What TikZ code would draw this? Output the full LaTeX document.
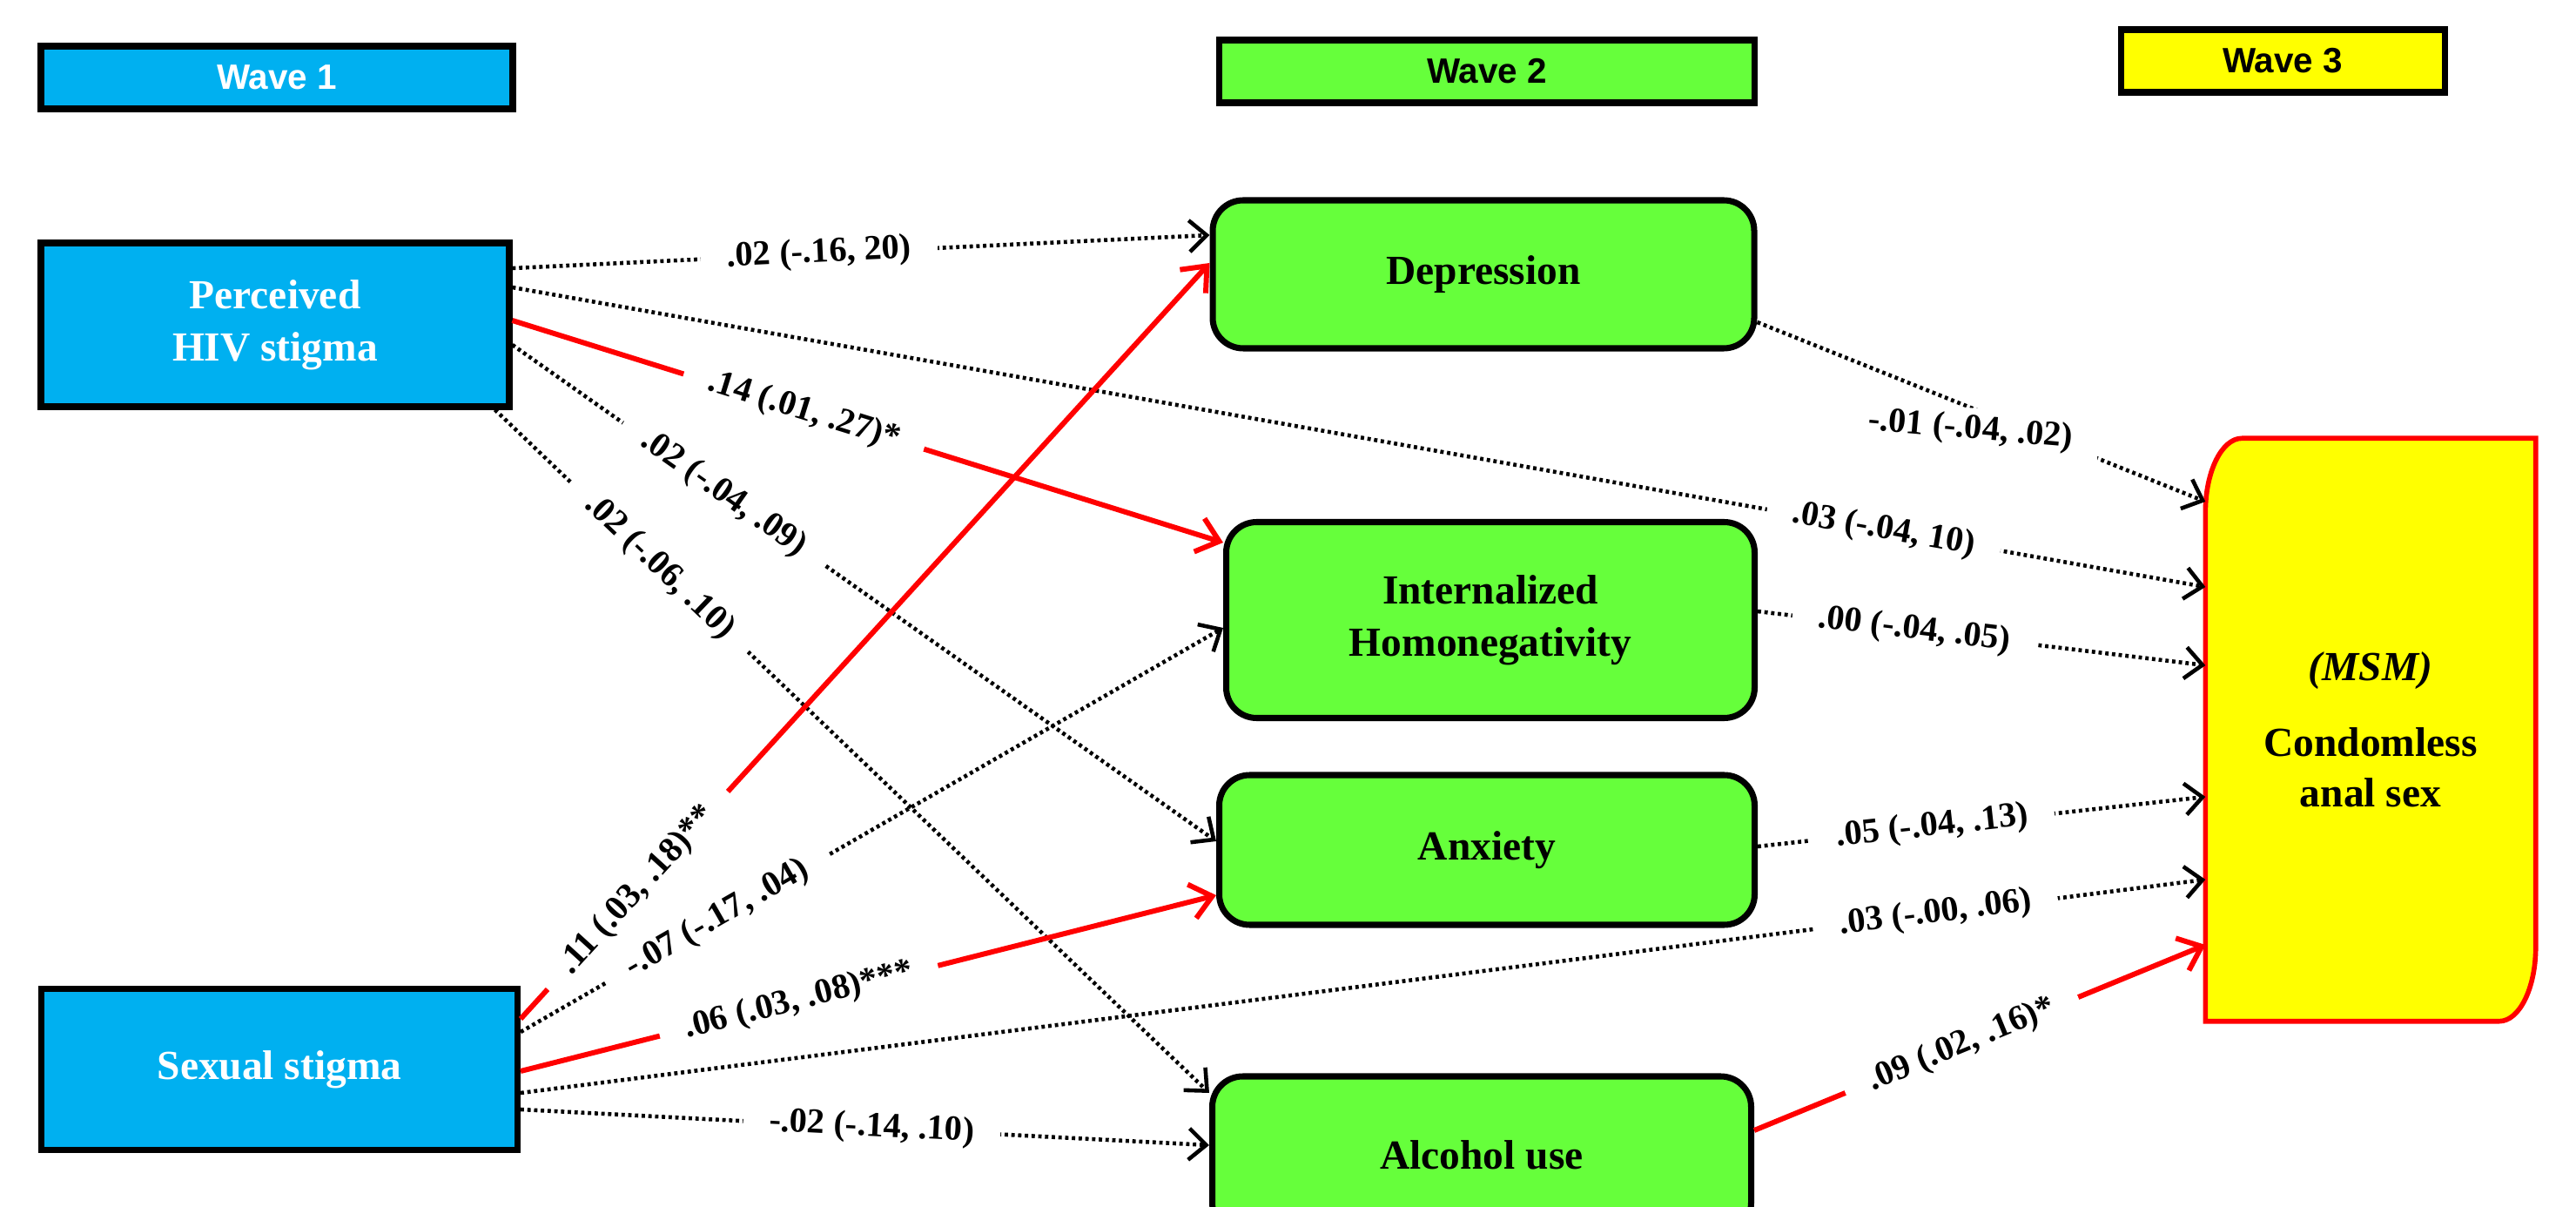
\documentclass[tikz,border=0pt]{standalone}
\usepackage{fontspec}
\setmainfont{Liberation Serif}
\setsansfont{Liberation Sans}
\definecolor{wvblue}{RGB}{0,176,240}
\definecolor{wvgreen}{RGB}{102,255,59}
\definecolor{wvyellow}{RGB}{255,255,0}
\definecolor{wvred}{RGB}{255,0,0}
\usetikzlibrary{arrows.meta,positioning,calc}

\begin{document}
\begin{tikzpicture}[
  wavehead/.style={draw,line width=2pt,minimum height=0.72cm,
    font=\sffamily\bfseries\fontsize{11.5}{13}\selectfont},
  w1box/.style={draw,line width=2pt,fill=wvblue,text=white,minimum width=5.38cm,
    minimum height=1.88cm,align=center,font=\bfseries\fontsize{13.5}{17}\selectfont},
  w2box/.style={draw,line width=2pt,fill=wvgreen,rounded corners=0.35cm,
    align=center,font=\bfseries\fontsize{13.5}{17}\selectfont},
  pathlbl/.style={fill=white,text=black,inner xsep=0.3cm,inner ysep=2pt,
    font=\bfseries\fontsize{11.5}{13}\selectfont},
  nsarr/.style={-{Straight Barb[length=2mm,width=3.6mm]},line width=1.3pt,
    dash pattern=on 1.1pt off 1.1pt},
  sigarr/.style={-{Straight Barb[length=2.4mm,width=4mm]},line width=1.7pt,wvred}
]
  \useasboundingbox (0,0) rectangle (29.59,13.85);
  % Wave headers
  \node[wavehead,fill=wvblue,text=white,minimum width=5.42cm] (w1) at (3.18,12.96) {Wave 1};
  \node[wavehead,fill=wvgreen,minimum width=6.15cm] (w2) at (17.08,13.03) {Wave 2};
  \node[wavehead,fill=wvyellow,minimum width=3.72cm] (w3) at (26.22,13.15) {Wave 3};
  % Wave 1
  \node[w1box] (phs) at (3.16,10.12) {Perceived\\HIV stigma};
  \node[w1box,minimum width=5.47cm,minimum height=1.85cm] (ss) at (3.21,1.57) {Sexual stigma};
  % Wave 2
  \node[w2box,minimum width=6.22cm,minimum height=1.70cm] (dep) at (17.04,10.70) {Depression};
  \node[w2box,minimum width=6.07cm,minimum height=2.25cm] (ih) at (17.12,6.73) {Internalized\\Homonegativity};
  \node[w2box,minimum width=6.15cm,minimum height=1.72cm] (anx) at (17.08,4.09) {Anxiety};
  \node[w2box,minimum width=6.19cm,minimum height=1.80cm] (alc) at (17.02,0.59) {Alcohol use};
  % Wave 3
  \node[minimum width=3.78cm,minimum height=6.68cm] (cas) at (27.23,5.47) {};
  \draw[wvred,line width=1.6pt,fill=wvyellow] (cas.north east)
    -- ($(cas.south east)+(0,0.85)$) arc[start angle=0,end angle=-90,x radius=0.42,y radius=0.85]
    -- (cas.south west)
    -- ($(cas.north west)+(0,-0.85)$) arc[start angle=180,end angle=90,x radius=0.42,y radius=0.85]
    -- cycle;
  \node[align=center,font=\bfseries\fontsize{13.5}{16.6}\selectfont] (castext) at (cas.center)
    {\textit{(MSM)}\\[8pt]Condomless\\anal sex};

  % Perceived HIV stigma paths
  \draw[nsarr] ([yshift=0.65cm]phs.east) -- node[pathlbl,pos=0.44,sloped] {.02 (-.16, 20)} ([yshift=0.45cm]dep.west);
  \draw[nsarr] ([yshift=0.43cm]phs.east) -- node[pathlbl,pos=0.81,sloped] {.03 (-.04, 10)} ([yshift=1.64cm]cas.west);
  \draw[sigarr] ([yshift=0.05cm]phs.east) -- node[pathlbl,pos=0.41,sloped] {.14 (.01, .27)*} ([yshift=0.89cm]ih.west);
  \draw[nsarr] ([yshift=-0.23cm]phs.east) -- node[pathlbl,pos=0.30,sloped] {.02 (-.04, .09)} ([yshift=0.10cm]anx.west);
  \draw[nsarr] ([xshift=-0.2cm]phs.south east) -- node[pathlbl,pos=0.23,sloped] {.02 (-.06, .10)} ([yshift=0.71cm]alc.west);
  % Sexual stigma paths
  \draw[sigarr] ([yshift=0.58cm]ss.east) -- node[pathlbl,pos=0.17,sloped] {.11 (.03, .18)**} ([yshift=0.13cm]dep.west);
  \draw[nsarr] ([yshift=0.43cm]ss.east) -- node[pathlbl,pos=0.28,sloped] {-.07 (-.17, .04)} ([yshift=-0.09cm]ih.west);
  \draw[sigarr] ([yshift=-0.02cm]ss.east) -- node[pathlbl,pos=0.40,sloped] {.06 (.03, .08)***} ([yshift=-0.52cm]anx.west);
  \draw[nsarr] ([yshift=-0.27cm]ss.east) -- node[pathlbl,pos=0.84,sloped] {.03 (-.00, .06)} ([yshift=-1.72cm]cas.west);
  \draw[nsarr] ([yshift=-0.46cm]ss.east) -- node[pathlbl,pos=0.51,sloped] {-.02 (-.14, .10)} ([yshift=0.11cm]alc.west);
  % Wave 2 to outcome
  \draw[nsarr] ([yshift=-0.55cm]dep.east) -- node[pathlbl,pos=0.48,rotate=-5,yshift=-0.25cm] {-.01 (-.04, .02)} ([yshift=2.62cm]cas.west);
  \draw[nsarr] ([yshift=0.10cm]ih.east) -- node[pathlbl,pos=0.35,sloped] {.00 (-.04, .05)} ([yshift=0.74cm]cas.west);
  \draw[nsarr] ([yshift=0.04cm]anx.east) -- node[pathlbl,pos=0.39,sloped] {.05 (-.04, .13)} ([yshift=-0.77cm]cas.west);
  \draw[sigarr] ([yshift=0.28cm]alc.east) -- node[pathlbl,pos=0.46,sloped] {.09 (.02, .16)*} ([yshift=-2.47cm]cas.west);
\end{tikzpicture}
\end{document}
